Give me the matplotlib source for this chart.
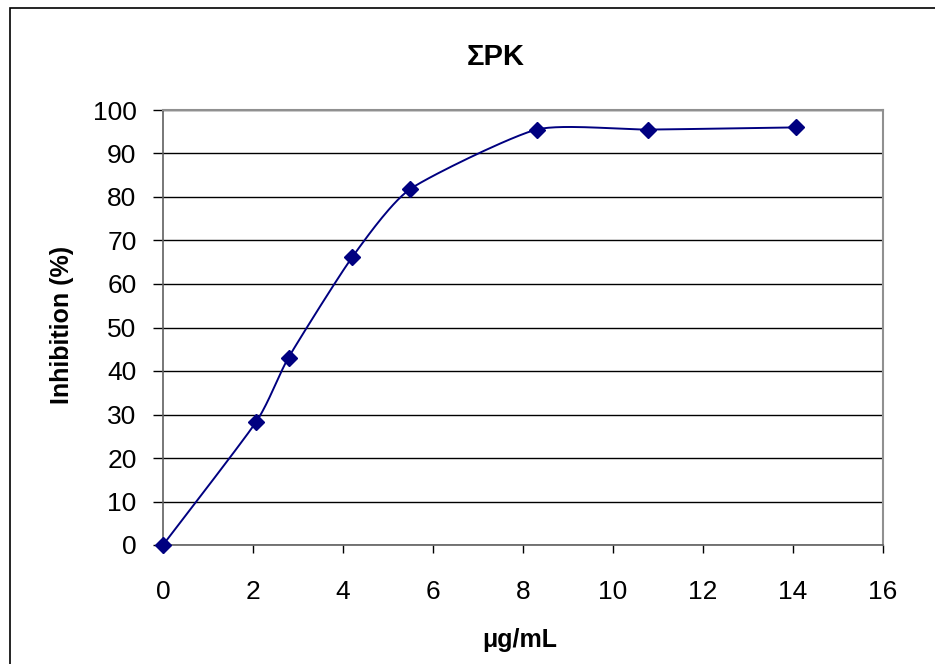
import numpy as np
import matplotlib
matplotlib.use('Agg')
import matplotlib.pyplot as plt
from matplotlib.patches import Rectangle

plt.rcParams['font.family'] = ['Liberation Sans', 'DejaVu Sans']

# data
conc = [0, 2.07, 2.79, 4.2, 5.49, 8.3, 10.78, 14.07]
inhibition = [0, 28.3, 43.1, 66.1, 81.8, 95.5, 95.5, 96.0]
x_ticks = [0, 2, 4, 6, 8, 10, 12, 14, 16]
y_ticks = [0, 10, 20, 30, 40, 50, 60, 70, 80, 90, 100]

title = 'ΣPK'
x_label = 'μg/mL'
y_label = 'Inhibition (%)'


def smooth(xs, ys, n=30, tension=0.6):
    # hermite smoothing through the points, like the spreadsheet's smoothed line
    xs = np.asarray(xs, float)
    ys = np.asarray(ys, float)
    px = np.concatenate([[xs[0]], xs, [xs[-1]]])
    py = np.concatenate([[ys[0]], ys, [ys[-1]]])
    out_x, out_y = [], []
    t = np.linspace(0, 1, n)
    h00 = 2 * t**3 - 3 * t**2 + 1
    h10 = t**3 - 2 * t**2 + t
    h01 = -2 * t**3 + 3 * t**2
    h11 = t**3 - t**2
    for i in range(1, len(px) - 2):
        for arr, out in ((px, out_x), (py, out_y)):
            p0, p1, p2, p3 = arr[i - 1], arr[i], arr[i + 1], arr[i + 2]
            m1 = tension * (p2 - p0) / 2
            m2 = tension * (p3 - p1) / 2
            out.extend(h00 * p1 + h10 * m1 + h01 * p2 + h11 * m2)
    return out_x, out_y


fig = plt.figure(figsize=(9.35, 6.64), dpi=100)
ax = fig.add_axes([163 / 935, 1 - 545 / 664, 720 / 935, 435 / 664])

# outer chart border
fig.patches.append(Rectangle((10 / 935, -0.1), 1.2, 1 - 8 / 664 + 0.1,
                             transform=fig.transFigure, fill=False,
                             edgecolor='black', linewidth=1.2))

sx, sy = smooth(conc, inhibition)
ax.plot(sx, sy, color='#000080', linewidth=1.4, zorder=3)
ax.plot(conc, inhibition, linestyle='none', marker='D', markersize=8.5,
        color='#000080', zorder=4, clip_on=False)

ax.set_xlim(0, 16)
ax.set_ylim(0, 100)
ax.set_xticks(x_ticks)
ax.set_yticks(y_ticks)
ax.tick_params(direction='out', width=1, labelsize=19, colors='black')
ax.tick_params(axis='x', length=6, pad=19)
ax.tick_params(axis='y', length=7, pad=12)
ax.yaxis.grid(True, color='black', linewidth=1)
ax.set_axisbelow(True)

for side in ['top', 'right']:
    ax.spines[side].set_color('#909090')
    ax.spines[side].set_linewidth(1.5)
for side in ['left', 'bottom']:
    ax.spines[side].set_color('#606060')
    ax.spines[side].set_linewidth(1.2)

fig.text(496 / 935, 1 - 57 / 664, title, fontsize=21, fontweight='bold',
         ha='center', va='center')
ax.set_xlabel(x_label, fontsize=18, fontweight='bold', va='center')
ax.xaxis.set_label_coords(0.496, -0.218)
ax.set_ylabel(y_label, fontsize=18, fontweight='bold', va='center')
ax.yaxis.set_label_coords(-0.14, 0.506)

fig.savefig('out.png', dpi=100)
